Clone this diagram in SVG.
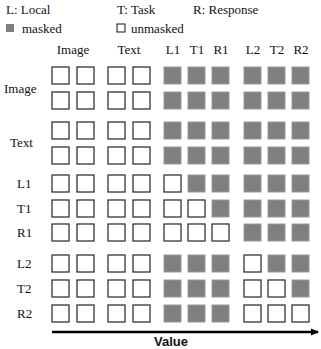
<svg xmlns="http://www.w3.org/2000/svg" width="321" height="349" viewBox="0 0 321 349">
<style>
text.t{font-family:'Liberation Serif','Times New Roman',Times,serif;font-size:13px;fill:#111}
text.v{font-family:'Liberation Sans',Arial,Helvetica,sans-serif;font-size:13px;font-weight:bold;fill:#111}
.u{fill:#fff;stroke:#333;stroke-width:1.3}
.m{fill:#7f7f7f;stroke:#9a9a9a;stroke-width:1}
</style>
<defs>
<marker id="ah" markerWidth="8" markerHeight="8" refX="7" refY="4" orient="auto" markerUnits="userSpaceOnUse">
<path d="M0,0.5 L8,4 L0,7.5 Z" fill="#000"/>
</marker>
<rect id="U" width="17" height="17" class="u"/>
<rect id="M" width="17" height="17" class="m"/>
</defs>
<g id="legend" font-family="Liberation Serif, Times New Roman, serif">
<text class="t" x="6" y="14">L: Local</text>
<text class="t" x="117" y="14">T: Task</text>
<text class="t" x="193" y="14">R: Response</text>
<rect x="6" y="24" width="8" height="8" fill="#7f7f7f"/>
<text class="t" x="22" y="33">masked</text>
<rect x="117" y="24" width="8" height="8" fill="#fff" stroke="#111" stroke-width="1"/>
<text class="t" x="131" y="33">unmasked</text>
</g>
<g id="col-headers" font-family="Liberation Serif, Times New Roman, serif">
<text class="t" x="73" y="54" text-anchor="middle">Image</text>
<text class="t" x="129" y="54" text-anchor="middle">Text</text>
<text class="t" x="173" y="54" text-anchor="middle">L1</text>
<text class="t" x="197" y="54" text-anchor="middle">T1</text>
<text class="t" x="221" y="54" text-anchor="middle">R1</text>
<text class="t" x="253" y="54" text-anchor="middle">L2</text>
<text class="t" x="277" y="54" text-anchor="middle">T2</text>
<text class="t" x="301" y="54" text-anchor="middle">R2</text>
</g>
<g id="row-labels" font-family="Liberation Serif, Times New Roman, serif">
<text class="t" x="4" y="93">Image</text>
<text class="t" x="10" y="147">Text</text>
<text class="t" x="17" y="188">L1</text>
<text class="t" x="17" y="213">T1</text>
<text class="t" x="17" y="237">R1</text>
<text class="t" x="17" y="268">L2</text>
<text class="t" x="17" y="293">T2</text>
<text class="t" x="17" y="318">R2</text>
</g>
<g id="grid">
<g id="row-image-1" transform="translate(0,67)">
<use href="#U" x="52"/><use href="#U" x="77"/><use href="#U" x="108"/><use href="#U" x="133"/>
<use href="#M" x="164"/><use href="#M" x="188"/><use href="#M" x="212"/><use href="#M" x="244"/><use href="#M" x="268"/><use href="#M" x="292"/>
</g>
<g id="row-image-2" transform="translate(0,92)">
<use href="#U" x="52"/><use href="#U" x="77"/><use href="#U" x="108"/><use href="#U" x="133"/>
<use href="#M" x="164"/><use href="#M" x="188"/><use href="#M" x="212"/><use href="#M" x="244"/><use href="#M" x="268"/><use href="#M" x="292"/>
</g>
<g id="row-text-1" transform="translate(0,122)">
<use href="#U" x="52"/><use href="#U" x="77"/><use href="#U" x="108"/><use href="#U" x="133"/>
<use href="#M" x="164"/><use href="#M" x="188"/><use href="#M" x="212"/><use href="#M" x="244"/><use href="#M" x="268"/><use href="#M" x="292"/>
</g>
<g id="row-text-2" transform="translate(0,147)">
<use href="#U" x="52"/><use href="#U" x="77"/><use href="#U" x="108"/><use href="#U" x="133"/>
<use href="#M" x="164"/><use href="#M" x="188"/><use href="#M" x="212"/><use href="#M" x="244"/><use href="#M" x="268"/><use href="#M" x="292"/>
</g>
<g id="row-l1" transform="translate(0,175)">
<use href="#U" x="52"/><use href="#U" x="77"/><use href="#U" x="108"/><use href="#U" x="133"/>
<use href="#U" x="164"/><use href="#M" x="188"/><use href="#M" x="212"/><use href="#M" x="244"/><use href="#M" x="268"/><use href="#M" x="292"/>
</g>
<g id="row-t1" transform="translate(0,200)">
<use href="#U" x="52"/><use href="#U" x="77"/><use href="#U" x="108"/><use href="#U" x="133"/>
<use href="#U" x="164"/><use href="#U" x="188"/><use href="#M" x="212"/><use href="#M" x="244"/><use href="#M" x="268"/><use href="#M" x="292"/>
</g>
<g id="row-r1" transform="translate(0,224)">
<use href="#U" x="52"/><use href="#U" x="77"/><use href="#U" x="108"/><use href="#U" x="133"/>
<use href="#U" x="164"/><use href="#U" x="188"/><use href="#U" x="212"/><use href="#M" x="244"/><use href="#M" x="268"/><use href="#M" x="292"/>
</g>
<g id="row-l2" transform="translate(0,255)">
<use href="#U" x="52"/><use href="#U" x="77"/><use href="#U" x="108"/><use href="#U" x="133"/>
<use href="#M" x="164"/><use href="#M" x="188"/><use href="#M" x="212"/><use href="#U" x="244"/><use href="#M" x="268"/><use href="#M" x="292"/>
</g>
<g id="row-t2" transform="translate(0,280)">
<use href="#U" x="52"/><use href="#U" x="77"/><use href="#U" x="108"/><use href="#U" x="133"/>
<use href="#M" x="164"/><use href="#M" x="188"/><use href="#M" x="212"/><use href="#U" x="244"/><use href="#U" x="268"/><use href="#M" x="292"/>
</g>
<g id="row-r2" transform="translate(0,305)">
<use href="#U" x="52"/><use href="#U" x="77"/><use href="#U" x="108"/><use href="#U" x="133"/>
<use href="#M" x="164"/><use href="#M" x="188"/><use href="#M" x="212"/><use href="#U" x="244"/><use href="#U" x="268"/><use href="#U" x="292"/>
</g>
</g>
<g id="connectors">
<line x1="52" y1="332" x2="318" y2="332" stroke="#000" stroke-width="2.5" marker-end="url(#ah)"/>
</g>
<g id="axis-label" font-family="Liberation Sans, Arial, sans-serif">
<text class="v" x="171" y="346" text-anchor="middle">Value</text>
</g>
</svg>
